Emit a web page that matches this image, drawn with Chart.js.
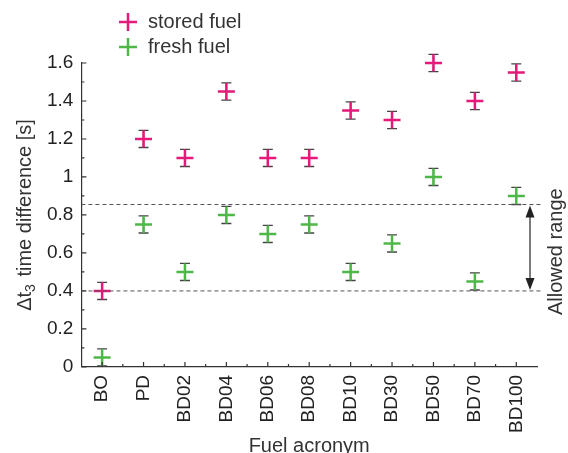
<!DOCTYPE html>
<html>
<head>
<meta charset="utf-8">
<script src="https://cdn.jsdelivr.net/npm/chart.js@4.4.1/dist/chart.umd.min.js"></script>
<style>
html, body { margin: 0; background: #fff; }
#wrap { width: 568px; height: 453px; }
</style>
</head>
<body>
<div id="wrap"><canvas id="chart"></canvas></div>
<script>
const fuels = ['BO', 'PD', 'BD02', 'BD04', 'BD06', 'BD08', 'BD10', 'BD30', 'BD50', 'BD70', 'BD100'];
const stored = [0.40, 1.20, 1.10, 1.45, 1.10, 1.10, 1.35, 1.30, 1.60, 1.40, 1.55];
const fresh = [0.05, 0.75, 0.50, 0.80, 0.70, 0.75, 0.50, 0.65, 1.00, 0.45, 0.90];
const storedErr = [0.045, 0.045, 0.045, 0.045, 0.045, 0.045, 0.045, 0.045, 0.045, 0.045, 0.045];
const freshErr = [0.045, 0.045, 0.045, 0.045, 0.045, 0.045, 0.045, 0.045, 0.045, 0.045, 0.045];
const allowed = [0.40, 0.855];

const FONT = '"Liberation Sans", Arial, sans-serif';
const PINK = '#e5197a';
const GREEN = '#4db848';
const INK = '#333';

// error bars, inward ticks, allowed range, legend and axis titles
const extras = {
    id: 'extras',
    beforeDatasetsDraw(chart) {
        const ctx = chart.ctx;
        const x = chart.scales.x, y = chart.scales.y;
        const errs = [storedErr, freshErr];
        ctx.save();
        ctx.strokeStyle = '#444';
        ctx.lineWidth = 1.3;
        chart.data.datasets.forEach((ds, i) => {
            ds.data.forEach((v, j) => {
                const px = x.getPixelForValue(j);
                const top = y.getPixelForValue(v + errs[i][j]);
                const bot = y.getPixelForValue(v - errs[i][j]);
                ctx.beginPath();
                ctx.moveTo(px, top); ctx.lineTo(px, bot);
                ctx.moveTo(px - 5, top); ctx.lineTo(px + 5, top);
                ctx.moveTo(px - 5, bot); ctx.lineTo(px + 5, bot);
                ctx.stroke();
            });
        });
        ctx.restore();
    },
    afterDraw(chart) {
        const ctx = chart.ctx;
        const area = chart.chartArea;
        const x = chart.scales.x, y = chart.scales.y;
        ctx.save();
        ctx.strokeStyle = INK;
        ctx.lineWidth = 1.2;
        ctx.beginPath();
        for (let k = 0; k <= 16; k++) {
            const py = y.getPixelForValue(k / 10);
            const len = k % 2 === 0 ? 5 : 3;
            ctx.moveTo(area.left, py); ctx.lineTo(area.left + len, py);
        }
        fuels.forEach((f, j) => {
            const px = x.getPixelForValue(j);
            ctx.moveTo(px, area.bottom); ctx.lineTo(px, area.bottom - 5);
            if (j > 0) {
                const mx = (px + x.getPixelForValue(j - 1)) / 2;
                ctx.moveTo(mx, area.bottom); ctx.lineTo(mx, area.bottom - 3);
            }
        });
        ctx.stroke();

        // allowed range
        const yLow = y.getPixelForValue(allowed[0]);
        const yHigh = y.getPixelForValue(allowed[1]);
        ctx.strokeStyle = '#555';
        ctx.lineWidth = 1;
        ctx.setLineDash([4, 3]);
        ctx.beginPath();
        ctx.moveTo(area.left, yLow); ctx.lineTo(area.right + 4, yLow);
        ctx.moveTo(area.left, yHigh); ctx.lineTo(area.right + 4, yHigh);
        ctx.stroke();
        ctx.setLineDash([]);
        const ax = area.right - 7;
        ctx.strokeStyle = '#222';
        ctx.fillStyle = '#222';
        ctx.lineWidth = 1.2;
        ctx.beginPath();
        ctx.moveTo(ax, yHigh + 8); ctx.lineTo(ax, yLow - 8);
        ctx.stroke();
        ctx.beginPath();
        ctx.moveTo(ax, yHigh + 1); ctx.lineTo(ax - 4.5, yHigh + 13); ctx.lineTo(ax + 4.5, yHigh + 13);
        ctx.closePath();
        ctx.moveTo(ax, yLow - 1); ctx.lineTo(ax - 4.5, yLow - 13); ctx.lineTo(ax + 4.5, yLow - 13);
        ctx.closePath();
        ctx.fill();

        ctx.fillStyle = INK;
        ctx.font = '20px ' + FONT;
        ctx.textAlign = 'center';
        ctx.textBaseline = 'middle';
        ctx.save();
        ctx.translate(area.right + 19, (yLow + yHigh) / 2 + 4);
        ctx.rotate(-Math.PI / 2);
        ctx.fillText('Allowed range', 0, 0);
        ctx.restore();

        // x title
        ctx.fillText('Fuel acronym', (area.left + area.right) / 2, 446);

        // y title with subscript
        ctx.save();
        ctx.translate(25, (area.top + area.bottom) / 2);
        ctx.rotate(-Math.PI / 2);
        const a = 'Δt', sub = '3', b = ' time difference [s]';
        ctx.font = '20px ' + FONT;
        const wa = ctx.measureText(a).width, wb = ctx.measureText(b).width;
        ctx.font = '14px ' + FONT;
        const ws = ctx.measureText(sub).width + 2;
        let sx = -(wa + ws + wb) / 2;
        ctx.textAlign = 'left';
        ctx.font = '20px ' + FONT;
        ctx.fillText(a, sx, 0);
        ctx.font = '14px ' + FONT;
        ctx.fillText(sub, sx + wa, 6);
        ctx.font = '20px ' + FONT;
        ctx.fillText(b, sx + wa + ws, 0);
        ctx.restore();

        // legend
        chart.data.datasets.forEach((ds, i) => {
            const ly = 22 + i * 25;
            ctx.strokeStyle = ds.borderColor;
            ctx.lineWidth = 2.5;
            ctx.beginPath();
            ctx.moveTo(119, ly); ctx.lineTo(137, ly);
            ctx.moveTo(128, ly - 9); ctx.lineTo(128, ly + 9);
            ctx.stroke();
            ctx.fillStyle = INK;
            ctx.font = '20px ' + FONT;
            ctx.textAlign = 'left';
            ctx.fillText(ds.label, 148, ly);
        });
        ctx.restore();
    }
};

new Chart(document.getElementById('chart'), {
    type: 'line',
    data: {
        labels: fuels,
        datasets: [
            { label: 'stored fuel', data: stored, borderColor: PINK, backgroundColor: PINK, clip: false },
            { label: 'fresh fuel', data: fresh, borderColor: GREEN, backgroundColor: GREEN, clip: false }
        ]
    },
    options: {
        responsive: true,
        maintainAspectRatio: false,
        animation: false,
        showLine: false,
        elements: {
            point: { pointStyle: 'cross', radius: 8.5, hoverRadius: 8.5, borderWidth: 2.5 }
        },
        layout: { padding: { left: 39, top: 63, right: 31, bottom: 12 } },
        plugins: { legend: { display: false }, tooltip: { enabled: false } },
        scales: {
            x: {
                offset: true,
                grid: { display: true, drawOnChartArea: false, drawTicks: false, offset: false },
                border: { display: true, color: INK, width: 1.2 },
                ticks: { color: '#222', font: { family: FONT, size: 19 }, minRotation: 90, maxRotation: 90, padding: 8 }
            },
            y: {
                min: 0,
                max: 1.6,
                grid: { display: true, drawOnChartArea: false, drawTicks: false },
                border: { display: true, color: INK, width: 1.2 },
                ticks: {
                    stepSize: 0.2, color: '#222', font: { family: FONT, size: 19 }, padding: 8,
                    callback: v => String(+v.toFixed(1))
                }
            }
        }
    },
    plugins: [extras]
});
</script>
</body>
</html>
